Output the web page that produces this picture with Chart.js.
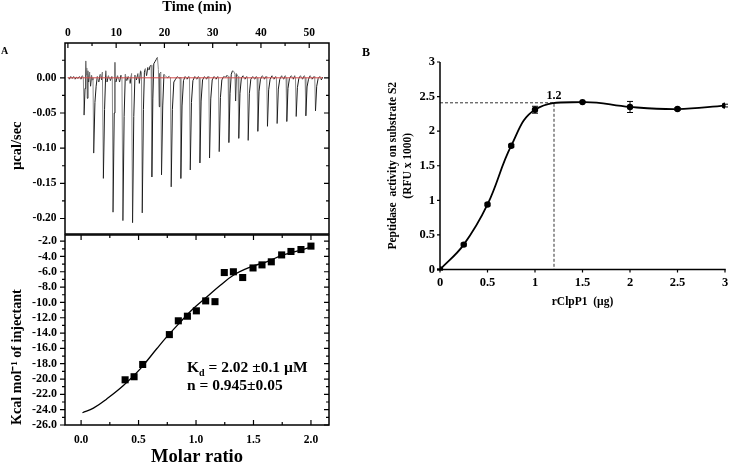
<!DOCTYPE html>
<html>
<head>
<meta charset="utf-8">
<script src="https://cdn.jsdelivr.net/npm/chart.js@4.4.0/dist/chart.umd.min.js"></script>
<style>
  body { margin: 0; background: #fff; }
  #wrap { position: relative; width: 729px; height: 463px; overflow: hidden; font-family: 'Liberation Serif', serif; font-weight: bold; color: #000; }
  canvas { position: absolute; }
  .lbl { position: absolute; white-space: nowrap; line-height: 1; }
</style>
</head>
<body>
<div id="wrap">
  <canvas id="raw" width="340" height="240" style="left:0;top:0"></canvas>
  <canvas id="heat" width="340" height="233" style="left:0;top:230px"></canvas>
  <canvas id="activity" width="369" height="290" style="left:360px;top:30px"></canvas>
  <div class="lbl" style="left:1px;top:46px;font-size:10px">A</div>
  <div class="lbl" style="left:362px;top:46px;font-size:12px">B</div>
  <div class="lbl" style="left:187px;top:359px;font-size:15.5px">K<sub style="font-size:10px">d</sub> = 2.02 ±0.1 µM</div>
  <div class="lbl" style="left:187px;top:377px;font-size:15.5px">n = 0.945±0.05</div>
</div>
<script>
// ITC raw thermogram, [time (min), power (µcal/sec)]
const itcTrace = [
  [0.0,0.001],[0.3,-0.002],[0.6,0.002],[0.9,-0.001],[1.2,0.002],[1.5,-0.002],[1.8,0.001],[2.1,-0.001],[2.4,0.002],[2.7,-0.002],[3.0,0.003],[3.2,0.0],
  [3.35,-0.053],[3.55,-0.015],[3.7,0.024],[3.8,0.004],[3.9,0.014],[4.0,-0.029],[4.15,0.01],[4.3,-0.006],[4.5,0.008],[4.7,-0.012],[4.9,0.004],[5.1,-0.003],[5.2,0.0],
  [5.35,-0.107],[5.6,-0.035],[5.85,-0.012],[6.1,0.002],[6.4,-0.006],[6.7,0.005],[7.0,-0.003],[7.15,0.008],
  [7.35,-0.143],[7.6,-0.045],[7.85,0.01],[8.1,-0.006],[8.4,0.003],[8.8,-0.004],[9.1,0.002],[9.2,0.0],
  [9.35,-0.191],[9.6,-0.05],[9.75,0.022],[9.95,-0.006],[10.3,0.003],[10.7,-0.006],[11.0,0.004],[11.2,0.0],
  [11.4,-0.203],[11.65,-0.055],[11.9,0.005],[12.2,-0.004],[12.5,0.002],[12.9,-0.008],[13.2,0.006],
  [13.4,-0.206],[13.65,-0.055],[13.9,0.004],[14.2,-0.003],[14.5,0.006],[14.8,-0.008],[15.05,0.01],[15.25,0.008],
  [15.4,-0.192],[15.65,-0.045],[15.85,0.008],[16.05,0.013],[16.3,0.003],[16.55,0.015],[16.8,0.011],[17.05,0.017],[17.25,0.018],
  [17.4,-0.141],[17.6,-0.03],[17.8,0.02],[18.05,0.023],[18.3,0.026],[18.55,0.029],[18.75,0.012],[18.9,-0.041],[19.05,0.006],[19.25,0.008],
  [19.4,-0.138],[19.65,-0.04],[19.9,0.005],[20.2,0.003],[20.6,0.0],[21.0,0.002],[21.25,0.0],
  [21.4,-0.155],[21.65,-0.045],[21.95,-0.006],[22.3,-0.002],[22.7,0.002],[23.1,-0.001],[23.25,0.001],
  [23.4,-0.143],[23.65,-0.04],[23.95,-0.004],[24.3,0.002],[24.7,-0.002],[25.05,0.002],[25.2,0.0],
  [25.35,-0.131],[25.6,-0.035],[25.9,-0.004],[26.3,0.002],[26.7,-0.002],[27.05,0.002],[27.2,0.0],
  [27.35,-0.121],[27.6,-0.033],[27.9,-0.003],[28.3,0.002],[28.7,-0.002],[29.05,0.002],[29.2,0.0],
  [29.35,-0.114],[29.6,-0.03],[29.9,-0.003],[30.3,0.002],[30.7,-0.002],[31.05,0.002],[31.2,0.0],
  [31.35,-0.105],[31.6,-0.028],[31.9,-0.003],[32.3,0.002],[32.7,0.001],[33.05,0.004],[33.2,0.002],
  [33.35,-0.092],[33.6,-0.022],[33.85,0.005],[34.1,0.01],[34.4,0.009],[34.6,0.005],[34.75,-0.033],[34.9,0.006],[35.1,0.004],[35.25,0.002],
  [35.4,-0.086],[35.65,-0.022],[35.95,0.0],[36.3,0.003],[36.7,-0.002],[37.05,0.002],[37.2,0.0],
  [37.35,-0.089],[37.6,-0.022],[37.9,-0.002],[38.3,0.002],[38.7,-0.002],[39.05,0.002],[39.2,0.0],
  [39.35,-0.076],[39.6,-0.019],[39.9,-0.002],[40.3,0.003],[40.7,-0.002],[41.05,0.002],[41.2,0.0],
  [41.35,-0.069],[41.6,-0.017],[41.9,-0.002],[42.3,0.003],[42.7,-0.002],[43.05,0.002],[43.2,0.0],
  [43.35,-0.065],[43.6,-0.016],[43.9,-0.002],[44.3,0.003],[44.7,-0.002],[45.05,0.003],[45.2,0.0],
  [45.35,-0.062],[45.6,-0.015],[45.9,-0.001],[46.3,0.003],[46.7,-0.002],[47.0,0.003],[47.15,0.0],
  [47.3,-0.055],[47.55,-0.014],[47.85,-0.001],[48.2,0.003],[48.6,-0.002],[49.0,0.003],[49.15,0.0],
  [49.3,-0.054],[49.55,-0.013],[49.85,-0.002],[50.2,0.003],[50.6,-0.002],[51.0,0.002],[51.15,0.0],
  [51.3,-0.047],[51.55,-0.012],[51.85,-0.001],[52.2,0.002],[52.5,-0.003],[52.8,0.001]
];
const baselineTime = [0, 52.8];
const baselinePower = [0, 0];

// integrated heats
const molarRatio = [0.383, 0.461, 0.536, 0.768, 0.846, 0.925, 1.003, 1.084, 1.165, 1.246, 1.325, 1.406, 1.496, 1.574, 1.655, 1.745, 1.826, 1.913, 2.0];
const heatPerMol = [-20.1, -19.7, -18.1, -14.2, -12.4, -11.8, -11.1, -9.8, -9.9, -6.1, -6.0, -6.75, -5.5, -5.1, -4.7, -3.8, -3.35, -3.1, -2.65];
const fitRatio = [0.012, 0.107, 0.223, 0.368, 0.513, 0.658, 0.745, 0.861, 0.977, 1.093, 1.209, 1.325, 1.47, 1.614, 1.759, 1.904, 2.006];
const fitHeat = [-24.4, -23.8, -22.6, -20.85, -18.7, -16.05, -14.5, -12.6, -10.8, -9.3, -7.8, -6.45, -5.4, -4.7, -3.8, -3.2, -2.75];

// peptidase activity (panel B)
const enzymeAmount = [0, 0.25, 0.5, 0.75, 1, 1.5, 2, 2.5, 3];
const activity = [0, 0.36, 0.94, 1.79, 2.31, 2.42, 2.35, 2.32, 2.37];
const activityErr = [0.01, 0.02, 0.02, 0.02, 0.05, 0.01, 0.08, 0.02, 0.02];
const guideX = [0, 1.2, 1.2];
const guideY = [2.41, 2.41, 0];

const serif = "'Liberation Serif', 'Times New Roman', serif";
Chart.defaults.font.family = serif;
Chart.defaults.font.weight = 'bold';
Chart.defaults.color = '#000';

const pts = (xs, ys) => xs.map((x, i) => ({ x: x, y: ys[i] }));

// font size that makes a bold title span a given length
const probe = document.createElement('canvas').getContext('2d');
function sizeToSpan(text, size, span) {
  probe.font = 'bold ' + size + 'px ' + serif;
  return size * span / probe.measureText(text).width;
}
const heatTitle = 'Kcal mol⁻¹ of injectant';
const heatTitleSize = sizeToSpan(heatTitle, 14, 136);

// fixed axis sizes so the plot boxes land where the figure has them
const fixW = w => s => { s.width = w; s.paddingTop = s.paddingBottom = s.paddingLeft = s.paddingRight = 0; };
const fixH = h => s => { s.height = h; s.paddingTop = s.paddingBottom = s.paddingLeft = s.paddingRight = 0; };

// box + tick marks (in / out, major + minor) drawn along the chart area
const frameTicks = {
  id: 'frameTicks',
  afterDraw(chart, args, opts) {
    const { ctx, chartArea: a } = chart;
    ctx.save();
    ctx.strokeStyle = '#000';
    ctx.lineWidth = 1.5;
    ctx.beginPath();
    (opts.lines || []).forEach(side => {
      if (side === 'top') { ctx.moveTo(a.left - 0.75, a.top); ctx.lineTo(a.right + 0.75, a.top); }
      if (side === 'bottom') { ctx.moveTo(a.left - 0.75, a.bottom); ctx.lineTo(a.right + 0.75, a.bottom); }
      if (side === 'left') { ctx.moveTo(a.left, a.top); ctx.lineTo(a.left, a.bottom); }
      if (side === 'right') { ctx.moveTo(a.right, a.top); ctx.lineTo(a.right, a.bottom); }
    });
    ctx.stroke();
    ctx.lineWidth = 1.2;
    (opts.sides || []).forEach(s => {
      const scale = chart.scales[s.scale];
      const horiz = s.side === 'top' || s.side === 'bottom';
      const sign = { top: 1, bottom: -1, left: 1, right: -1 }[s.side] * (s.dir === 'in' ? 1 : -1);
      const base = a[s.side];
      const step = s.minor || s.major;
      const i0 = Math.ceil(scale.min / step - 1e-6), i1 = Math.floor(scale.max / step + 1e-6);
      ctx.beginPath();
      for (let i = i0; i <= i1; i++) {
        const v = i * step;
        const r = v / s.major;
        const len = Math.abs(r - Math.round(r)) < 1e-6 ? (s.len || 5) : (s.minorLen || 3);
        const p = scale.getPixelForValue(v);
        if (horiz) { ctx.moveTo(p, base); ctx.lineTo(p, base + sign * len); }
        else { ctx.moveTo(base, p); ctx.lineTo(base + sign * len, p); }
      }
      ctx.stroke();
    });
    ctx.restore();
  }
};

const errorBars = {
  id: 'errorBars',
  afterDatasetsDraw(chart) {
    const { ctx, scales: { x, y } } = chart;
    ctx.save();
    ctx.strokeStyle = '#000';
    ctx.lineWidth = 1;
    ctx.beginPath();
    enzymeAmount.forEach((a, i) => {
      const px = x.getPixelForValue(a);
      const hi = y.getPixelForValue(activity[i] + activityErr[i]);
      const lo = y.getPixelForValue(activity[i] - activityErr[i]);
      ctx.moveTo(px, hi); ctx.lineTo(px, lo);
      ctx.moveTo(px - 3, hi); ctx.lineTo(px + 3, hi);
      ctx.moveTo(px - 3, lo); ctx.lineTo(px + 3, lo);
    });
    ctx.stroke();
    ctx.fillStyle = '#000';
    ctx.font = 'bold 12px ' + serif;
    ctx.textAlign = 'center';
    ctx.textBaseline = 'bottom';
    ctx.fillText('1.2', x.getPixelForValue(guideX[1]), y.getPixelForValue(guideY[0]) - 1);
    ctx.restore();
  }
};

const fixed = (v, d) => (Math.abs(v) < 1e-9 ? 0 : v).toFixed(d);
const plain = v => String(+(+v).toFixed(2));
const noGrid = { display: false, drawTicks: false };
const common = {
  responsive: false,
  animation: false,
  events: [],
  plugins: { legend: { display: false }, tooltip: { enabled: false } }
};

// A, top: raw heat rate
new Chart(document.getElementById('raw'), {
  type: 'scatter',
  data: {
    datasets: [
      { data: pts(baselineTime, baselinePower), showLine: true, borderColor: '#d24a4a', borderWidth: 1, pointRadius: 0 },
      {
        data: itcTrace.map(([t, p]) => ({ x: t, y: p })), showLine: true, borderWidth: 1, pointRadius: 0,
        borderColor: '#1a1a1a',
        segment: { borderColor: c => (c.p1.parsed.y < c.p0.parsed.y ? '#8a8a8a' : '#1a1a1a') }
      }
    ]
  },
  options: {
    ...common,
    layout: { padding: { top: 0, right: 11, bottom: 6, left: 0 } },
    plugins: {
      ...common.plugins,
      frameTicks: {
        lines: ['top', 'bottom', 'left', 'right'],
        sides: [
          { side: 'top', scale: 'x', major: 10, minor: 5, dir: 'in' },
          { side: 'left', scale: 'y', major: 0.05, minor: 0.025, dir: 'out' },
          { side: 'right', scale: 'y', major: 0.05, minor: 0.025, dir: 'in' }
        ]
      }
    },
    scales: {
      x: {
        type: 'linear', position: 'top', min: -0.6, max: 54.1,
        grid: noGrid, border: { display: false },
        ticks: { stepSize: 10, includeBounds: false, padding: 3, font: { size: 11.5 }, maxRotation: 0, autoSkip: false },
        title: { display: true, text: 'Time (min)', font: { size: 14.5, lineHeight: 1 }, padding: { top: 0, bottom: 0 } },
        afterFit: fixH(43)
      },
      y: {
        min: -0.222, max: 0.0495,
        grid: noGrid, border: { display: false },
        ticks: { stepSize: 0.05, includeBounds: false, padding: 8.5, font: { size: 11.5 }, autoSkip: false, callback: v => fixed(v, 2) },
        title: { display: true, text: 'µcal/sec    ', font: { size: 14.5, lineHeight: 1 }, padding: { top: 10, bottom: 0 } },
        afterFit: fixW(65)
      }
    }
  },
  plugins: [frameTicks]
});

// A, bottom: integrated heats with fit
new Chart(document.getElementById('heat'), {
  type: 'scatter',
  data: {
    datasets: [
      { data: pts(molarRatio, heatPerMol), pointStyle: 'rect', pointRadius: 5, backgroundColor: '#000', borderColor: '#000', borderWidth: 0 },
      { data: pts(fitRatio, fitHeat), showLine: true, tension: 0.4, borderColor: '#000', borderWidth: 1.3, pointRadius: 0 }
    ]
  },
  options: {
    ...common,
    layout: { padding: { top: 5, right: 11, bottom: 0, left: 0 } },
    plugins: {
      ...common.plugins,
      frameTicks: {
        lines: ['top', 'bottom', 'left', 'right'],
        sides: [
          { side: 'top', scale: 'x', major: 0.5, minor: 0.25, dir: 'in' },
          { side: 'bottom', scale: 'x', major: 0.5, minor: 0.25, dir: 'in' },
          { side: 'left', scale: 'y', major: 2, minor: 1, dir: 'out' },
          { side: 'right', scale: 'y', major: 2, minor: 1, dir: 'in' }
        ]
      }
    },
    scales: {
      x: {
        type: 'linear', min: -0.14, max: 2.157,
        grid: noGrid, border: { display: false },
        ticks: { stepSize: 0.5, includeBounds: false, padding: 8, font: { size: 11.5 }, maxRotation: 0, autoSkip: false, callback: v => fixed(v, 1) },
        title: { display: true, text: 'Molar ratio', font: { size: 18.5, lineHeight: 1 }, padding: { top: 0, bottom: -3 } },
        afterFit: fixH(38)
      },
      y: {
        min: -26, max: -1.2,
        grid: noGrid, border: { display: false },
        ticks: { stepSize: 2, includeBounds: false, padding: 8, font: { size: 12 }, autoSkip: false, callback: v => fixed(v, 1) },
        title: { display: true, text: heatTitle, align: 'start', font: { size: heatTitleSize, lineHeight: 1 }, padding: { top: 10, bottom: 0 } },
        afterFit: fixW(65)
      }
    }
  },
  plugins: [frameTicks]
});

// B: peptidase activity vs rClpP1 amount
new Chart(document.getElementById('activity'), {
  type: 'scatter',
  data: {
    datasets: [
      { data: pts(enzymeAmount, activity), showLine: true, tension: 0.4, borderColor: '#000', borderWidth: 1.8, pointRadius: 3.2, backgroundColor: '#000', pointBorderWidth: 0 },
      { data: pts(guideX, guideY), showLine: true, borderColor: '#333', borderWidth: 1, borderDash: [3, 2], pointRadius: 0 }
    ]
  },
  options: {
    ...common,
    layout: { padding: { top: 32, right: 3.3, bottom: 0, left: 0 } },
    plugins: {
      ...common.plugins,
      frameTicks: {
        lines: ['left', 'bottom'],
        sides: [
          { side: 'left', scale: 'y', major: 0.5, dir: 'out', len: 3 },
          { side: 'bottom', scale: 'x', major: 0.5, dir: 'out', len: 3 }
        ]
      }
    },
    scales: {
      x: {
        type: 'linear', min: 0, max: 3,
        grid: noGrid, border: { display: false },
        ticks: { stepSize: 0.5, padding: 6, font: { size: 12.5 }, maxRotation: 0, autoSkip: false, callback: plain },
        title: { display: true, text: 'rClpP1  (µg)', font: { size: 11.5, lineHeight: 1.2 }, padding: { top: 0, bottom: 11 } },
        afterFit: fixH(50.5)
      },
      y: {
        min: 0, max: 3,
        grid: noGrid, border: { display: false },
        ticks: { stepSize: 0.5, padding: 5, font: { size: 12.5 }, autoSkip: false, callback: plain },
        title: { display: true, text: ['Peptidase  activity on substrate S2', '(RFU x 1000)'], font: { size: 11.5, lineHeight: 1.25 }, padding: { top: 26, bottom: 0 } },
        afterFit: fixW(80)
      }
    }
  },
  plugins: [frameTicks, errorBars]
});
</script>
</body>
</html>
